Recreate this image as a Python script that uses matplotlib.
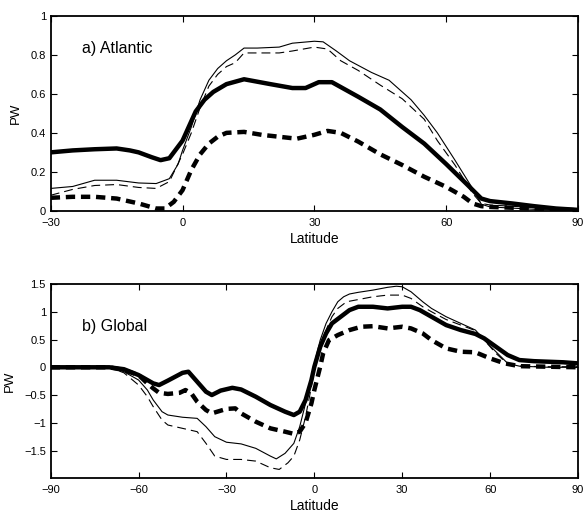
import matplotlib.pyplot as plt
from matplotlib.ticker import FuncFormatter

plt.rcParams["font.family"] = ["Liberation Sans", "DejaVu Sans"]

# a) Atlantic
lat_a1 = [-30, -25, -20, -15, -12, -10, -7, -5, -3, 0, 3, 5, 7, 10, 14, 20, 25, 28, 31, 34, 40, 45, 50, 55, 60, 65, 68, 70, 75, 80, 85, 90]
pw_a1 = [0.30, 0.31, 0.316, 0.32, 0.31, 0.30, 0.275, 0.26, 0.27, 0.36, 0.51, 0.57, 0.61, 0.65, 0.675, 0.65, 0.63, 0.63, 0.66, 0.66, 0.585, 0.52, 0.43, 0.345, 0.24, 0.13, 0.063, 0.05, 0.038, 0.024, 0.012, 0.005]

lat_a2 = [-30, -25, -20, -15, -10, -6, -3, -1, 0, 2, 4, 6, 8, 10, 12, 14, 17, 22, 25, 30, 32, 35, 38, 43, 47, 52, 55, 58, 62, 66, 68, 70, 80, 90]
pw_a2 = [0.115, 0.125, 0.157, 0.157, 0.143, 0.14, 0.165, 0.24, 0.31, 0.43, 0.57, 0.67, 0.73, 0.77, 0.80, 0.835, 0.835, 0.84, 0.86, 0.87, 0.867, 0.82, 0.77, 0.71, 0.67, 0.57, 0.49, 0.40, 0.26, 0.115, 0.034, 0.02, 0.008, 0.0]

lat_a3 = [-30, -25, -20, -15, -10, -6, -3, 0, 2, 4, 6, 8, 10, 12, 14, 17, 22, 25, 30, 33, 36, 40, 45, 50, 55, 58, 62, 66, 68, 70, 80, 90]
pw_a3 = [0.08, 0.11, 0.13, 0.135, 0.12, 0.115, 0.15, 0.29, 0.40, 0.53, 0.64, 0.70, 0.74, 0.76, 0.81, 0.81, 0.81, 0.82, 0.84, 0.83, 0.77, 0.72, 0.645, 0.575, 0.47, 0.36, 0.235, 0.09, 0.038, 0.03, 0.017, 0.003]

lat_a4 = [-30, -25, -20, -15, -10, -6, -4, -2, 0, 2, 4, 6, 8, 10, 14, 18, 22, 26, 30, 33, 36, 40, 45, 50, 55, 60, 64, 66, 68, 70, 80, 90]
pw_a4 = [0.067, 0.072, 0.072, 0.063, 0.038, 0.012, 0.012, 0.046, 0.106, 0.21, 0.29, 0.345, 0.38, 0.40, 0.405, 0.39, 0.38, 0.37, 0.39, 0.41, 0.40, 0.355, 0.29, 0.235, 0.175, 0.123, 0.072, 0.038, 0.024, 0.02, 0.012, 0.003]

# b) Global
lat_g1 = [-90, -80, -70, -65, -60, -55, -53, -50, -45, -43, -40, -37, -35, -32, -28, -25, -20, -15, -10, -7, -5, -3, -1, 0, 2, 4, 6, 9, 12, 15, 20, 25, 30, 33, 36, 40, 45, 50, 55, 58, 62, 66, 70, 75, 80, 85, 90]
pw_g1 = [0.0, 0.0, 0.0, -0.035, -0.14, -0.29, -0.32, -0.24, -0.10, -0.08, -0.26, -0.44, -0.50, -0.42, -0.37, -0.40, -0.53, -0.68, -0.80, -0.86, -0.80, -0.59, -0.23, 0.01, 0.37, 0.61, 0.79, 0.91, 1.03, 1.09, 1.09, 1.06, 1.09, 1.09, 1.03, 0.91, 0.76, 0.67, 0.60, 0.52, 0.37, 0.22, 0.13, 0.11, 0.10, 0.09, 0.07]

lat_g2 = [-90, -80, -70, -65, -60, -57, -55, -52, -50, -45, -40, -37, -34, -30, -25, -20, -15, -13, -10, -7, -5, -3, -1, 0, 2, 4, 6, 8, 10, 12, 15, 20, 25, 28, 30, 33, 37, 40, 45, 50, 55, 58, 62, 66, 70, 80, 90]
pw_g2 = [0.0, 0.0, 0.0, -0.08, -0.23, -0.41, -0.59, -0.80, -0.86, -0.90, -0.92, -1.07, -1.25, -1.35, -1.38, -1.46, -1.60, -1.65, -1.55, -1.37, -1.07, -0.65, -0.17, 0.07, 0.49, 0.79, 1.00, 1.18, 1.27, 1.32, 1.35, 1.39, 1.44, 1.46, 1.45, 1.36, 1.18, 1.06, 0.91, 0.79, 0.67, 0.49, 0.28, 0.07, 0.02, 0.0, 0.0]

lat_g3 = [-90, -80, -70, -65, -60, -57, -55, -52, -50, -45, -40, -37, -34, -30, -25, -20, -15, -12, -9, -7, -5, -3, -1, 0, 2, 4, 6, 8, 11, 15, 20, 25, 30, 33, 37, 40, 45, 50, 55, 58, 62, 66, 70, 80, 90]
pw_g3 = [0.0, 0.0, 0.0, -0.10, -0.32, -0.53, -0.71, -0.95, -1.04, -1.10, -1.16, -1.37, -1.60, -1.66, -1.66, -1.69, -1.81, -1.84, -1.72, -1.60, -1.31, -0.89, -0.35, -0.05, 0.37, 0.67, 0.91, 1.06, 1.18, 1.22, 1.27, 1.30, 1.30, 1.24, 1.09, 1.00, 0.86, 0.76, 0.66, 0.49, 0.25, 0.06, 0.02, 0.01, 0.01]

lat_g4 = [-90, -80, -70, -65, -60, -57, -55, -53, -50, -46, -44, -42, -40, -37, -35, -30, -27, -25, -20, -15, -10, -7, -5, -3, -1, 0, 2, 3, 5, 8, 12, 16, 20, 25, 30, 33, 37, 40, 45, 50, 55, 60, 65, 70, 80, 90]
pw_g4 = [0.0, 0.0, 0.0, -0.05, -0.14, -0.29, -0.38, -0.46, -0.48, -0.46, -0.41, -0.47, -0.62, -0.77, -0.83, -0.75, -0.74, -0.83, -0.98, -1.10, -1.16, -1.20, -1.16, -1.00, -0.65, -0.41, 0.01, 0.25, 0.49, 0.58, 0.67, 0.73, 0.74, 0.70, 0.73, 0.70, 0.61, 0.49, 0.34, 0.28, 0.27, 0.16, 0.07, 0.02, 0.01, 0.0]

styles = [
    dict(color="k", lw=3.2, ls="-"),
    dict(color="k", lw=0.8, ls="-"),
    dict(color="k", lw=0.8, dashes=(8, 4.5)),
    dict(color="k", lw=3.2, dashes=(2.1, 1.3)),
]

fmt = FuncFormatter(lambda v, p: ("%g" % v).replace("-", "\u2212"))

fig = plt.figure(figsize=[5.85, 5.13], dpi=100)
ax1 = fig.add_axes([0.0867, 0.589, 0.9013, 0.380])
ax2 = fig.add_axes([0.0867, 0.0676, 0.9013, 0.3788])

for x, y, st in zip([lat_a1, lat_a2, lat_a3, lat_a4], [pw_a1, pw_a2, pw_a3, pw_a4], styles):
    ax1.plot(x, y, solid_capstyle="butt", dash_capstyle="butt", solid_joinstyle="round", **st)
for x, y, st in zip([lat_g1, lat_g2, lat_g3, lat_g4], [pw_g1, pw_g2, pw_g3, pw_g4], styles):
    ax2.plot(x, y, solid_capstyle="butt", dash_capstyle="butt", solid_joinstyle="round", **st)

ax1.set_xlim(-30, 90)
ax1.set_ylim(0, 1)
ax1.set_xticks([-30, 0, 30, 60, 90])
ax1.set_yticks([0, 0.2, 0.4, 0.6, 0.8, 1])
ax1.text(0.059, 0.834, "a) Atlantic", transform=ax1.transAxes, fontsize=11.5, va="center")

ax2.set_xlim(-90, 90)
ax2.set_ylim(-2, 1.5)
ax2.set_xticks([-90, -60, -30, 0, 30, 60, 90])
ax2.set_yticks([-1.5, -1, -0.5, 0, 0.5, 1, 1.5])
ax2.text(0.059, 0.78, "b) Global", transform=ax2.transAxes, fontsize=11.5, va="center")

for ax in [ax1, ax2]:
    ax.xaxis.set_major_formatter(fmt)
    ax.yaxis.set_major_formatter(fmt)
    ax.tick_params(direction="in", top=True, right=True, length=4, width=0.8, labelsize=8)
    ax.tick_params(axis="x", pad=5)
    ax.tick_params(axis="y", pad=3.5)
    ax.set_xlabel("Latitude", fontsize=10, labelpad=3)
    ax.set_ylabel("PW", fontsize=9.5, labelpad=6)
    for s in ax.spines.values():
        s.set_linewidth(1.3)

plt.savefig("out.png", dpi=100)
